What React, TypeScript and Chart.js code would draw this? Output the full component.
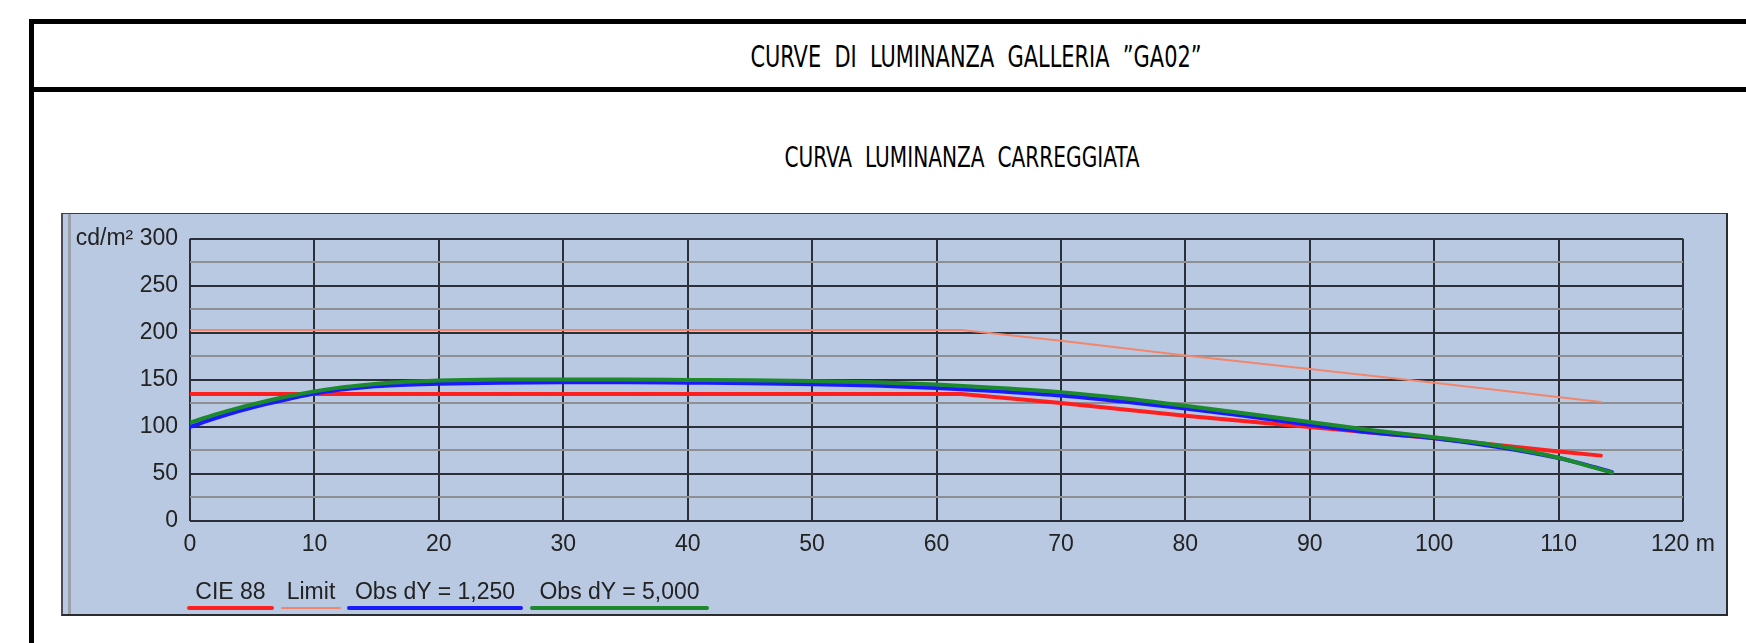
import React, { useEffect, useRef } from "react";
import { Chart, registerables } from "chart.js";

Chart.register(...registerables);

// ---------- data ----------
const TITLE = "CURVE  DI  LUMINANZA  GALLERIA  \u201DGA02\u201D";
const SUBTITLE = "CURVA  LUMINANZA  CARREGGIATA";

const xTickValues = [0, 10, 20, 30, 40, 50, 60, 70, 80, 90, 100, 110, 120];
const xUnit = "m";
const yMajorTicks = [0, 50, 100, 150, 200, 250, 300];
const yMinorTicks = [25, 75, 125, 175, 225, 275];
const yUnit = "cd/m\u00B2";

const seriesLabels = ["CIE 88", "Limit", "Obs dY = 1,250", "Obs dY = 5,000"];

const cieX = [0, 62, 70, 80, 90, 100, 110, 113.4];
const cieY = [135, 135, 125.5, 112, 100, 88, 74, 69.5];

const limitX = [0, 62, 70, 80, 90, 100, 113.4];
const limitY = [203, 203, 191.5, 176, 161.5, 147, 126.5];

const obs1X = [0, 2, 4, 6, 8, 10, 12, 14, 16, 18, 20, 25, 30, 35, 40, 45, 50, 55, 60, 65, 70, 75, 80, 85, 90, 95, 100, 105, 110, 112, 114.3];
const obs1Y = [100, 109, 117, 124, 130, 135.5, 139.5, 142.2, 144, 145.2, 146, 147, 147.5, 147.5, 147, 146.5, 145.5, 144, 141.5, 137.8, 133.4, 127, 119.7, 111.3, 102.4, 94, 88, 79, 67, 60.5, 52];

const obs5X = [0, 2, 4, 6, 8, 10, 12, 14, 16, 18, 20, 25, 30, 35, 40, 45, 50, 55, 60, 65, 70, 75, 80, 85, 90, 95, 100, 105, 110, 112, 114.3];
const obs5Y = [104.5, 113, 120.5, 127, 132.8, 137.8, 141.8, 144.7, 146.9, 148.3, 149.3, 150.3, 150.5, 150.5, 150, 149.5, 148.7, 147.4, 145, 141.5, 137, 130.5, 122.5, 114, 105.2, 96.5, 89, 80.3, 67.3, 60, 51.5];

// ---------- styles ----------
const COLORS = ["#ff1f1f", "#f2866c", "#1a1aff", "#1c8a2c"];
const WIDTHS = [4, 2, 4, 4];
const ORDERS = [2, 3, 1, 0];
const MAJOR = "#2b2f38";
const MINOR = "#8d8f93";
const TEXT = "#222222";
const FONT = "'Liberation Sans', Arial, sans-serif";
const NARROW = "'Liberation Sans Narrow', 'DejaVu Sans Condensed', sans-serif";
const PANEL_BG = "#b9c9e1";

const legendBars = [
  { left: 187, width: 87 },
  { left: 281, width: 60 },
  { left: 347, width: 176 },
  { left: 530, width: 179 },
];

function pts(xs: number[], ys: number[]) {
  return xs.map((x, i) => ({ x, y: ys[i] }));
}

export default function App() {
  const ref = useRef<HTMLCanvasElement | null>(null);

  useEffect(() => {
    if (!ref.current) return;
    const series = [
      pts(cieX, cieY),
      pts(limitX, limitY),
      pts(obs1X, obs1Y),
      pts(obs5X, obs5Y),
    ];
    const chart = new Chart(ref.current, {
      type: "line",
      data: {
        datasets: series.map((d, i) => ({
          label: seriesLabels[i],
          data: d,
          borderColor: COLORS[i],
          backgroundColor: COLORS[i],
          borderWidth: WIDTHS[i],
          pointRadius: 0,
          fill: false,
          order: ORDERS[i],
          tension: i >= 2 ? 0.4 : 0,
          cubicInterpolationMode: i >= 2 ? "monotone" : "default",
          borderCapStyle: "round",
          borderJoinStyle: "round",
        })),
      },
      options: {
        animation: false,
        responsive: false,
        maintainAspectRatio: false,
        layout: { padding: { top: 21, right: 45, left: 0, bottom: 0 } },
        plugins: {
          legend: { display: false },
          tooltip: { enabled: false },
          title: { display: false },
        },
        scales: {
          x: {
            type: "linear",
            min: 0,
            max: 120,
            afterBuildTicks: (s: any) => {
              s.ticks = xTickValues.map((v) => ({ value: v }));
            },
            afterFit: (s: any) => {
              s.height = 95;
            },
            ticks: {
              autoSkip: false,
              maxRotation: 0,
              minRotation: 0,
              padding: 10,
              color: TEXT,
              font: { family: FONT, size: 23 },
              callback: (v: any) =>
                v === xTickValues[xTickValues.length - 1] ? `${v} ${xUnit}` : String(v),
            },
            grid: { color: MAJOR, lineWidth: 2, drawTicks: false },
            border: { display: false },
          },
          y: {
            type: "linear",
            min: 0,
            max: 300,
            afterBuildTicks: (s: any) => {
              s.ticks = [...yMajorTicks, ...yMinorTicks]
                .sort((a, b) => a - b)
                .map((v) => ({ value: v }));
            },
            afterFit: (s: any) => {
              s.width = 129;
            },
            ticks: {
              autoSkip: false,
              padding: 12,
              color: TEXT,
              font: { family: FONT, size: 23 },
              callback: (v: any) => {
                if (!yMajorTicks.includes(v)) return "";
                return v === yMajorTicks[yMajorTicks.length - 1] ? `${yUnit} ${v}` : String(v);
              },
            },
            grid: {
              color: (c: any) =>
                c.tick && yMajorTicks.includes(c.tick.value) ? MAJOR : MINOR,
              lineWidth: 2,
              drawTicks: false,
            },
            border: { display: false },
          },
        },
      } as any,
    });
    return () => chart.destroy();
  }, []);

  return (
    <div
      style={{
        position: "fixed",
        left: 0,
        top: 0,
        width: 1746,
        height: 643,
        overflow: "hidden",
        background: "#ffffff",
      }}
    >
      {/* drawing frame */}
      <div style={{ position: "absolute", left: 29, top: 19, width: 2000, height: 5, background: "#000" }} />
      <div style={{ position: "absolute", left: 29, top: 19, width: 5, height: 1000, background: "#000" }} />
      <div style={{ position: "absolute", left: 29, top: 87, width: 2000, height: 5, background: "#000" }} />

      <div
        style={{
          position: "absolute",
          left: 976,
          top: 56,
          transform: "translate(-50%, -50%) scaleX(0.75)",
          fontFamily: NARROW,
          fontSize: 31,
          color: "#000",
          whiteSpace: "pre",
          lineHeight: 1,
        }}
      >
        {TITLE}
      </div>
      <div
        style={{
          position: "absolute",
          left: 962,
          top: 158,
          transform: "translate(-50%, -50%) scaleX(0.8)",
          fontFamily: NARROW,
          fontSize: 28,
          color: "#000",
          whiteSpace: "pre",
          lineHeight: 1,
        }}
      >
        {SUBTITLE}
      </div>

      {/* chart panel */}
      <div
        style={{
          position: "absolute",
          left: 61,
          top: 213,
          width: 1667,
          height: 403,
          boxSizing: "border-box",
          background: PANEL_BG,
          borderTop: "1px solid #3a3d44",
          borderLeft: "2px solid #4a4d55",
          borderRight: "2px solid #2a2c30",
          borderBottom: "2px solid #2a2c30",
        }}
      />
      <div style={{ position: "absolute", left: 68, top: 214, width: 3, height: 400, background: "#9aa1ab" }} />
      <canvas
        ref={ref}
        width={1667}
        height={403}
        style={{ position: "absolute", left: 61, top: 213, width: 1667, height: 403 }}
      />

      {/* legend */}
      {seriesLabels.map((lab, i) => (
        <div
          key={lab}
          style={{
            position: "absolute",
            left: legendBars[i].left,
            top: 577,
            width: legendBars[i].width,
            textAlign: "center",
            fontFamily: FONT,
            fontSize: 23,
            lineHeight: "28px",
            color: TEXT,
            whiteSpace: "nowrap",
          }}
        >
          {lab}
          <div
            style={{
              position: "absolute",
              left: 0,
              top: 31 - WIDTHS[i] / 2,
              width: legendBars[i].width,
              height: WIDTHS[i],
              background: COLORS[i],
              borderRadius: 2,
            }}
          />
        </div>
      ))}
    </div>
  );
}
